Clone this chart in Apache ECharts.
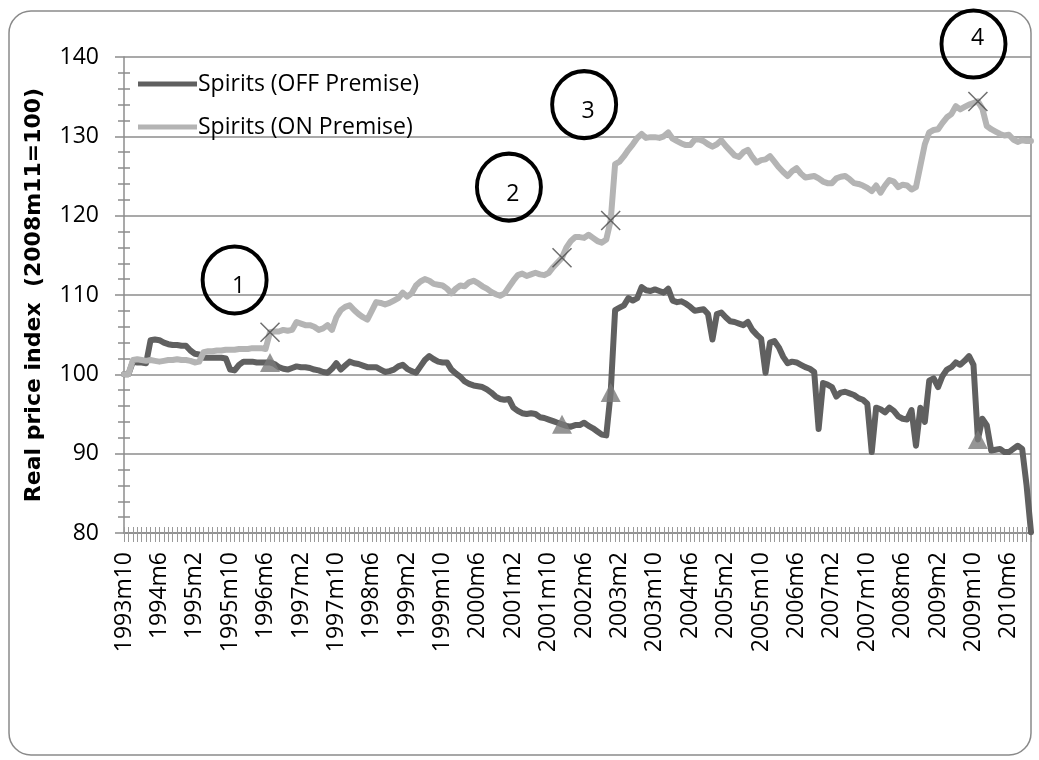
<!DOCTYPE html>
<html>
<head>
<meta charset="utf-8">
<script src="https://cdn.jsdelivr.net/npm/echarts@6/dist/echarts.min.js"></script>
<style>
  html, body { margin: 0; padding: 0; background: #fff; }
  #chart { width: 1039px; height: 760px; }
</style>
</head>
<body>
<div id="chart"></div>
<script>
// monthly categories 1993m10 .. 2010m11
const months = [];
for (let y = 1993, m = 10; months.length < 206;) {
  months.push(y + 'm' + m);
  m++;
  if (m > 12) { m = 1; y++; }
}

const offVals = [
  100.0, 100.0, 101.6, 101.5, 101.5, 101.4, 104.3, 104.4, 104.3, 104.0,
  103.8, 103.7, 103.7, 103.6, 103.6, 103.0, 102.6, 102.5, 102.1, 102.1,
  102.1, 102.1, 102.1, 102.0, 100.6, 100.5, 101.2, 101.6, 101.6, 101.6,
  101.5, 101.5, 101.5, 101.5, 101.3, 100.9, 100.7, 100.6, 100.8, 101.0,
  100.9, 100.9, 100.8, 100.6, 100.5, 100.3, 100.2, 100.7, 101.4, 100.6,
  101.1, 101.6, 101.4, 101.3, 101.1, 100.9, 100.9, 100.9, 100.6, 100.3,
  100.4, 100.6, 101.0, 101.2, 100.7, 100.4, 100.2, 101.0, 101.8, 102.3,
  101.9, 101.6, 101.5, 101.5, 100.6, 100.1, 99.7, 99.1, 98.8, 98.6,
  98.5, 98.4, 98.1, 97.7, 97.2, 96.9, 96.8, 96.9, 95.8, 95.4,
  95.1, 95.0, 95.1, 95.0, 94.6, 94.5, 94.3, 94.1, 93.9, 93.7,
  93.5, 93.4, 93.6, 93.6, 93.9, 93.5, 93.2, 92.8, 92.4, 92.3,
  97.7, 108.1, 108.4, 108.7, 109.6, 109.3, 109.6, 111.0, 110.6, 110.5,
  110.7, 110.5, 110.3, 110.8, 109.3, 109.1, 109.2, 108.9, 108.5, 108.0,
  108.1, 108.2, 107.6, 104.4, 107.6, 107.8, 107.2, 106.7, 106.6, 106.4,
  106.2, 106.6, 105.6, 105.0, 104.5, 100.2, 104.0, 104.2, 103.4, 102.2,
  101.4, 101.6, 101.5, 101.2, 100.9, 100.7, 100.3, 93.1, 98.9, 98.7,
  98.4, 97.2, 97.7, 97.8, 97.6, 97.4, 97.0, 96.8, 96.3, 90.2,
  95.8, 95.6, 95.2, 95.8, 95.4, 94.7, 94.4, 94.3, 95.5, 91.0,
  95.8, 94.0, 99.2, 99.5, 98.4, 99.8, 100.6, 100.9, 101.5, 101.2,
  101.7, 102.3, 101.2, 91.8, 94.4, 93.6, 90.4, 90.5, 90.6, 90.2,
  90.2, 90.6, 91.0, 90.6, 86.0, 80.1
];

const onVals = [
  100.0, 100.0, 101.8, 101.9, 101.8, 101.7, 101.8, 101.7, 101.6, 101.7,
  101.8, 101.8, 101.9, 101.8, 101.8, 101.7, 101.5, 101.6, 102.8, 102.9,
  102.9, 103.0, 103.0, 103.1, 103.1, 103.1, 103.2, 103.2, 103.2, 103.3,
  103.3, 103.3, 103.2, 105.3, 105.4, 105.4, 105.6, 105.5, 105.6, 106.6,
  106.4, 106.2, 106.2, 106.0, 105.6, 105.8, 106.2, 105.6, 107.2, 108.1,
  108.5, 108.7, 108.1, 107.6, 107.2, 106.9, 108.0, 109.1, 109.0, 108.8,
  109.0, 109.3, 109.6, 110.3, 109.8, 110.2, 111.2, 111.7, 112.0, 111.8,
  111.4, 111.3, 111.2, 110.8, 110.2, 110.8, 111.2, 111.1, 111.6, 111.8,
  111.5, 111.1, 110.8, 110.4, 110.1, 109.9, 110.2, 111.0, 111.8, 112.5,
  112.7, 112.4, 112.6, 112.8, 112.6, 112.5, 112.8, 113.5, 114.1, 114.7,
  116.0, 116.8, 117.3, 117.3, 117.2, 117.6, 117.2, 116.8, 116.6, 117.0,
  119.4, 126.5, 126.8, 127.5, 128.3, 129.0, 129.8, 130.3, 129.8, 129.9,
  129.9, 129.8, 130.0, 130.5, 129.7, 129.4, 129.1, 128.9, 128.9, 129.6,
  129.6, 129.4, 129.0, 128.7, 129.0, 129.5, 128.8, 128.2, 127.6, 127.4,
  128.0, 128.3, 127.4, 126.7, 127.0, 127.1, 127.5, 126.8, 126.1, 125.5,
  125.0, 125.6, 126.0, 125.3, 124.8, 124.9, 125.0, 124.7, 124.3, 124.1,
  124.1, 124.7, 124.9, 125.0, 124.6, 124.1, 124.0, 123.8, 123.5, 123.1,
  123.8, 122.9, 123.8, 124.5, 124.3, 123.6, 123.9, 123.8, 123.3, 123.6,
  126.3, 129.0, 130.5, 130.8, 130.9, 131.7, 132.4, 132.8, 133.8, 133.4,
  133.7, 134.0, 134.2, 134.4, 133.5, 131.3, 130.9, 130.6, 130.3, 130.1,
  130.2, 129.6, 129.3, 129.5, 129.4, 129.4
];

// months picked out with markers (index into months)
const markIdx = [33, 99, 110, 193];

// numbered circles: [label, month index, value, extra lift in px]
// circle 4 sits just above the axis top, so it is pinned at 140 and lifted
const notes = [
  ['1', 25, 111.9, 0],
  ['2', 87, 123.6, 0],
  ['3', 104, 134.0, 0],
  ['4', 192, 140, 13]
];

const yTicks = { min: 80, max: 140, step: 10 };

const gridGray = '#8c8c8c';
const font = 'Open Sans';

const chart = echarts.init(document.getElementById('chart'), null, {
  width: 1039,
  height: 760,
  renderer: 'canvas',
  devicePixelRatio: 1
});

const option = {
  animation: false,
  backgroundColor: '#fff',
  graphic: [{
    type: 'rect',
    shape: { x: 9, y: 11, width: 1022, height: 744, r: 22 },
    style: { fill: 'none', stroke: '#8a8a8a', lineWidth: 1.5 },
    silent: true,
    z: -1
  }],
  grid: { left: 124, right: 8, top: 57, bottom: 227, containLabel: false, outerBoundsMode: 'none' },
  legend: {
    orient: 'vertical',
    left: 138,
    top: 71,
    padding: 0,
    itemGap: 17,
    itemWidth: 59,
    itemHeight: 5,
    icon: 'rect',
    data: ['Spirits (OFF Premise)', 'Spirits (ON Premise)'],
    textStyle: { fontFamily: font, fontSize: 23, color: '#000', lineHeight: 26, padding: [0, 0, 0, -4] }
  },
  xAxis: [{
    type: 'category',
    data: months,
    boundaryGap: false,
    position: 'bottom',
    axisLine: { show: true, lineStyle: { color: gridGray, width: 1.5 } },
    axisTick: { show: true, interval: 0, length: 9, lineStyle: { color: '#9a9a9a', width: 1 } },
    axisLabel: { interval: 7, rotate: 90, margin: 19, fontFamily: font, fontSize: 23, color: '#000' },
    splitLine: { show: false }
  }, {
    type: 'category',
    data: months,
    boundaryGap: false,
    position: 'bottom',
    axisLine: { show: false },
    axisTick: { show: true, inside: true, interval: 0, length: 6, lineStyle: { color: '#9a9a9a', width: 1 } },
    axisLabel: { show: false },
    splitLine: { show: false }
  }],
  yAxis: [{
    type: 'value',
    min: yTicks.min,
    max: yTicks.max,
    interval: yTicks.step,
    name: 'Real price index  (2008m11=100)',
    nameLocation: 'middle',
    nameGap: 79,
    nameTextStyle: { fontFamily: 'DejaVu Sans', fontWeight: 'bold', fontSize: 22, color: '#000' },
    axisLine: { show: true, lineStyle: { color: gridGray, width: 1.5 } },
    axisTick: { show: true, length: 9, lineStyle: { color: gridGray, width: 1.5 } },
    minorTick: { show: true, splitNumber: 5, length: 6, lineStyle: { color: gridGray, width: 1.5 } },
    axisLabel: { margin: 25, fontFamily: font, fontSize: 23, color: '#000' },
    splitLine: { show: true, lineStyle: { color: gridGray, width: 1.5 } }
  }, {
    type: 'value',
    min: yTicks.min,
    max: yTicks.max,
    interval: yTicks.step,
    position: 'left',
    axisLine: { show: false },
    axisTick: { show: false, inside: true },
    minorTick: { show: true, splitNumber: 5, length: 6, lineStyle: { color: gridGray, width: 1.5 } },
    axisLabel: { show: false },
    splitLine: { show: false }
  }],
  series: [{
    name: 'Spirits (OFF Premise)',
    type: 'line',
    data: offVals,
    showSymbol: false,
    symbol: 'none',
    color: '#606060',
    lineStyle: { color: '#606060', width: 6, cap: 'round', join: 'round' },
    z: 3
  }, {
    name: 'Spirits (ON Premise)',
    type: 'line',
    data: onVals,
    showSymbol: false,
    symbol: 'none',
    color: '#b4b4b4',
    lineStyle: { color: '#b4b4b4', width: 6, cap: 'round', join: 'round' },
    z: 3,
    markPoint: {
      silent: true,
      symbol: 'circle',
      symbolSize: [64, 67],
      itemStyle: { color: 'rgba(0,0,0,0)', borderColor: '#000', borderWidth: 4 },
      label: {
        show: true,
        formatter: '{b}',
        fontFamily: font,
        fontSize: 23,
        color: '#000'
      },
      data: notes.map(n => ({
        name: n[0],
        coord: [months[n[1]], n[2]],
        symbolOffset: [0, -n[3]],
        label: { offset: [4, 7 - n[3]] }
      }))
    }
  }, {
    name: 'offMarks',
    type: 'scatter',
    data: markIdx.map(i => [months[i], offVals[i]]),
    symbol: 'triangle',
    symbolSize: [20, 19],
    itemStyle: { color: '#7a7a7a' },
    silent: true,
    z: 5
  }, {
    name: 'onMarks',
    type: 'scatter',
    data: markIdx.map(i => [months[i], onVals[i]]),
    symbol: 'path://M0,0L20,20M20,0L0,20',
    symbolSize: 19,
    itemStyle: { color: 'rgba(0,0,0,0)', borderColor: '#4a4a4a', borderWidth: 1.5 },
    silent: true,
    z: 5
  }]
};

chart.setOption(option);
</script>
</body>
</html>
